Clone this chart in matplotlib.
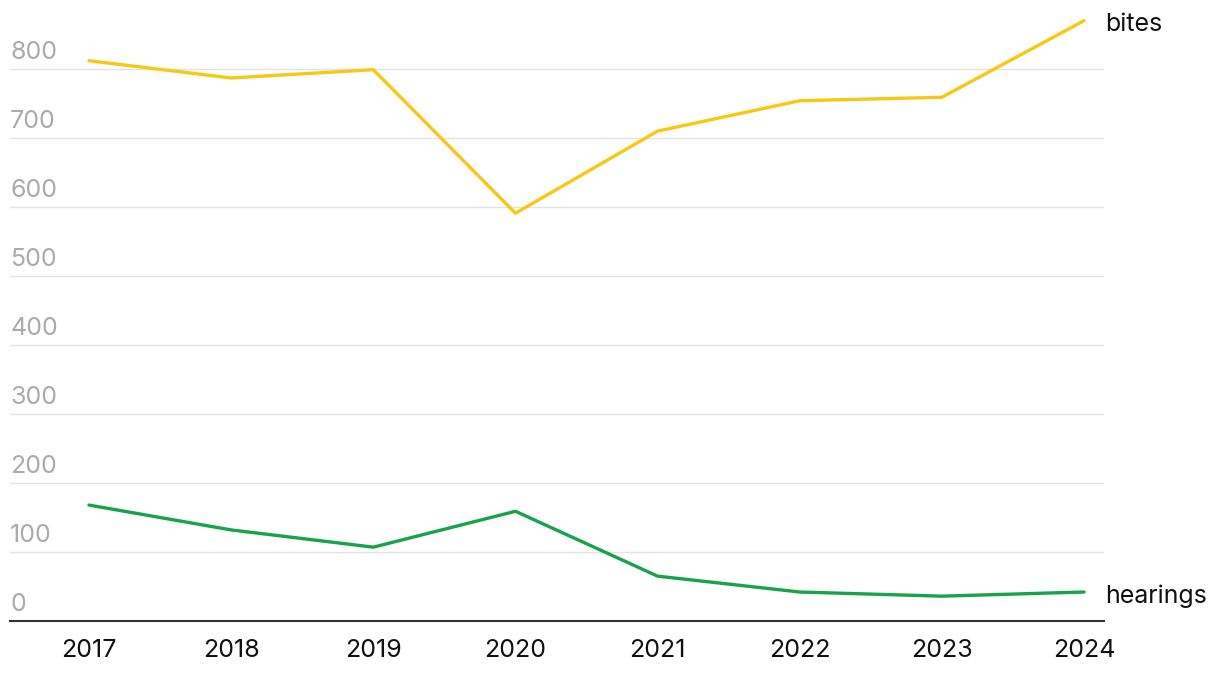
import matplotlib.pyplot as plt

plt.rcParams['font.family'] = ['Inter', 'DejaVu Sans']

# Données
years = [2017, 2018, 2019, 2020, 2021, 2022, 2023, 2024]
bites = [812, 787, 799, 591, 710, 754, 759, 870]
hearings = [168, 132, 107, 159, 65, 42, 36, 42]
y_ticks = [0, 100, 200, 300, 400, 500, 600, 700, 800]

W, H = 1220, 676
fig = plt.figure(figsize=(W / 100, H / 100), dpi=100)
ax = fig.add_axes([10 / W, 55 / H, 1094 / W, 607.2 / H])

ax.set_xlim(2016.444, 2024.1407)
ax.set_ylim(0, 880)

for s in ['top', 'right', 'left']:
    ax.spines[s].set_visible(False)
ax.spines['bottom'].set_color('#333333')
ax.spines['bottom'].set_linewidth(1.5)

# grille
for v in y_ticks[1:]:
    ax.axhline(v, color='#e3e3e3', lw=1.0, zorder=0)

# étiquettes de l'axe y
ax.set_yticks([])
for v in y_ticks:
    ax.annotate(str(v), xy=(0, v), xycoords=('axes fraction', 'data'),
                xytext=(0, 10), textcoords='offset pixels',
                ha='left', va='baseline', fontsize=18, color='#ababab')

ax.set_xticks(years)
ax.set_xticklabels([str(y) for y in years], fontsize=18, color='#111111')
ax.tick_params(axis='x', length=0, pad=13)

ax.plot(years, bites, color='#f7c814', lw=2.4, solid_capstyle='round', zorder=3)
ax.plot(years, hearings, color='#16a34a', lw=2.4, solid_capstyle='round', zorder=3)

ax.annotate('bites', xy=(years[-1], bites[-1]), xytext=(21, -4),
            textcoords='offset pixels', ha='left', va='center',
            fontsize=18, color='#111111', annotation_clip=False)
ax.annotate('hearings', xy=(years[-1], hearings[-1]), xytext=(21, -4),
            textcoords='offset pixels', ha='left', va='center',
            fontsize=18, color='#111111', annotation_clip=False)

fig.savefig('out.png', dpi=100)
